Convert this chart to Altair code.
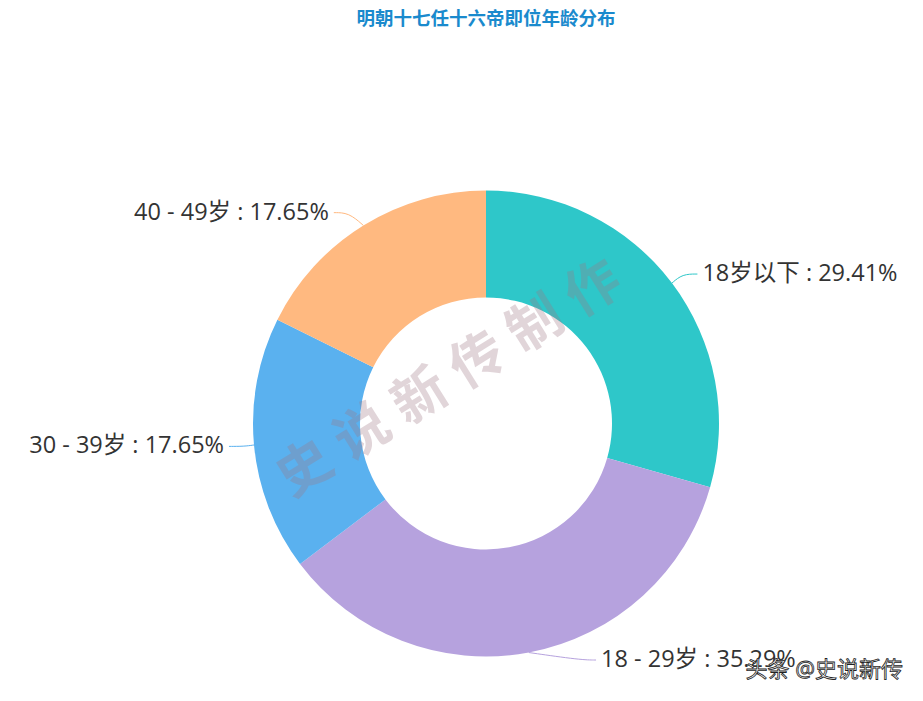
import altair as alt
import pandas as pd

# ---- data ----
categories = ["18岁以下", "18 - 29岁", "30 - 39岁", "40 - 49岁"]
counts = [5, 6, 3, 3]
colors = ["#2ec7c9", "#b6a2de", "#5ab1ef", "#ffb980"]
title_text = ["明朝十七任十六帝即位年龄分布"]
watermark_text = ["史 说 新 传 制 作"]
credit_text = ["头条 @史说新传"]

# ---- layout / style constants ----
W, H = 905, 680
CX, CY = 478, 415.5
R_OUT, R_IN = 233, 126
L1, L2 = 15, 15
GAP = 5
Y_MAX = 652
FONT = 'Open Sans, "Noto Sans CJK SC", sans-serif'

df = pd.DataFrame({"idx": list(range(len(categories))), "cat": categories, "count": counts})
color_scale = alt.Scale(domain=categories, range=colors)

base = alt.Chart(df)

arcs = base.mark_arc(innerRadius=R_IN, outerRadius=R_OUT).encode(
    theta=alt.Theta("count:Q", stack=True),
    color=alt.Color("cat:N", scale=color_scale, legend=None),
    order=alt.Order("idx:Q"),
    x=alt.value(CX),
    y=alt.value(CY),
)

geo = (
    base.transform_joinaggregate(total="sum(count)")
    .transform_window(cum="sum(count)", sort=[alt.SortField("idx")], frame=[None, 0])
    .transform_calculate(mid="(datum.cum - datum.count/2) / datum.total * 2 * PI")
    .transform_calculate(dx="sin(datum.mid)")
    .transform_calculate(dy="-cos(datum.mid)")
    .transform_calculate(dir="datum.dx < 0 ? -1 : 1")
    .transform_calculate(x1=f"{CX} + {R_OUT} * datum.dx")
    .transform_calculate(y1=f"{CY} + {R_OUT} * datum.dy")
    .transform_calculate(ly=f"min({CY} + {R_OUT + L1} * datum.dy, {Y_MAX})")
    .transform_calculate(ddx=f"sqrt(pow({R_OUT + L1 + L2}, 2) - pow(datum.ly - {CY}, 2))")
    .transform_calculate(tx=f"{CX} + datum.dir * datum.ddx")
    .transform_calculate(x3=f"datum.tx - datum.dir * {GAP}")
    .transform_calculate(x2=f"datum.x3 - datum.dir * {L2}")
    .transform_calculate(label="datum.cat + ' : ' + format(datum.count / datum.total, '.2%')")
)

lines = (
    geo.transform_fold(["x1", "x2", "x3"], as_=["pt", "px"])
    .transform_calculate(py="datum.pt == 'x1' ? datum.y1 : datum.ly")
    .mark_line(interpolate="basis", strokeWidth=1)
    .encode(
        x=alt.X("px:Q", scale=None, axis=None),
        y=alt.Y("py:Q", scale=None, axis=None),
        detail="cat:N",
        color=alt.Color("cat:N", scale=color_scale, legend=None),
        order=alt.Order("pt:N"),
    )
)

label_kw = dict(baseline="middle", fontSize=23.5, font=FONT, color="#333333")
lab_r = geo.transform_filter("datum.dir > 0").mark_text(align="left", **label_kw).encode(
    x=alt.X("tx:Q", scale=None, axis=None),
    y=alt.Y("ly:Q", scale=None, axis=None),
    text="label:N",
)
lab_l = geo.transform_filter("datum.dir < 0").mark_text(align="right", **label_kw).encode(
    x=alt.X("tx:Q", scale=None, axis=None),
    y=alt.Y("ly:Q", scale=None, axis=None),
    text="label:N",
)

title = alt.Chart(pd.DataFrame({"t": title_text})).mark_text(
    fontSize=18.5, fontWeight="bold", color="#1a8acd", font=FONT, baseline="top", align="center"
).encode(x=alt.value(CX), y=alt.value(2), text="t:N")

wm = alt.Chart(pd.DataFrame({"t": watermark_text})).mark_text(
    fontSize=54, angle=328, color="#9e7684", opacity=0.3, font=FONT, fontWeight="bold",
    align="center", baseline="middle"
).encode(x=alt.value(442), y=alt.value(372), text="t:N")

credit = alt.Chart(pd.DataFrame({"t": credit_text})).mark_text(
    fontSize=22, color="#ffffff", stroke="#222222", strokeWidth=0.8, font=FONT,
    align="right", baseline="middle"
).encode(x=alt.value(895), y=alt.value(662), text="t:N")

chart = (
    alt.layer(arcs, wm, lines, lab_r, lab_l, title, credit)
    .properties(width=W, height=H, autosize="none", padding=0)
    .configure_view(stroke=None)
)

chart.save("out.html", embed_options={"renderer": "svg", "actions": False})
